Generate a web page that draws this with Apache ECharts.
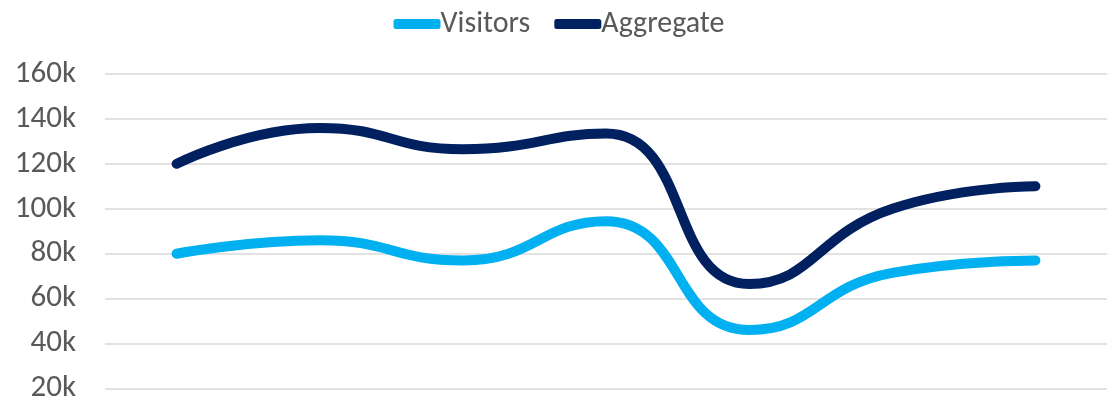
<!DOCTYPE html>
<html>
<head>
<meta charset="utf-8">
<script src="https://cdn.jsdelivr.net/npm/echarts@6/dist/echarts.min.js"></script>
<style>
  html, body { margin: 0; padding: 0; background: #fff; }
  #chart { width: 1118px; height: 404px; }
</style>
</head>
<body>
<div id="chart"></div>
<script>
const categories = ['P1', 'P2', 'P3', 'P4', 'P5', 'P6', 'P7'];
const visitors = [80000, 86000, 77000, 94500, 46000, 71500, 77000];
const aggregate = [120000, 136000, 126500, 133500, 66500, 100000, 110000];
const yTicks = { min: 20000, max: 160000, interval: 20000 };

const FONT = "Carlito, 'Open Sans', sans-serif";
const chart = echarts.init(document.getElementById('chart'));
chart.setOption({
  animation: false,
  backgroundColor: '#ffffff',
  legend: {
    top: 4,
    left: 'center',
    itemWidth: 47,
    itemHeight: 10,
    itemGap: 24,
    icon: 'roundRect',
    textStyle: { fontFamily: FONT, fontSize: 30, color: '#595959', padding: [0, 0, 0, -5] },
    data: ['Visitors', 'Aggregate']
  },
  grid: { left: 105, right: 11, top: 74, bottom: 12, containLabel: false },
  xAxis: {
    type: 'category',
    data: categories,
    boundaryGap: true,
    axisLine: { show: false },
    axisTick: { show: false },
    axisLabel: { show: false },
    splitLine: { show: false }
  },
  yAxis: {
    type: 'value',
    min: yTicks.min,
    max: yTicks.max,
    interval: yTicks.interval,
    axisLine: { show: false },
    axisTick: { show: false },
    axisLabel: {
      margin: 29,
      fontFamily: FONT,
      fontSize: 31,
      color: '#595959',
      formatter: v => (v / 1000) + 'k'
    },
    splitLine: { lineStyle: { color: '#d9d9d9', width: 1.5 } }
  },
  series: [
    {
      name: 'Visitors',
      type: 'line',
      data: visitors,
      smooth: 0.5,
      showSymbol: false,
      symbol: 'none',
      itemStyle: { color: '#00b0f0' },
      lineStyle: { color: '#00b0f0', width: 10, cap: 'round', join: 'round' }
    },
    {
      name: 'Aggregate',
      type: 'line',
      data: aggregate,
      smooth: 0.5,
      showSymbol: false,
      symbol: 'none',
      itemStyle: { color: '#002060' },
      lineStyle: { color: '#002060', width: 10, cap: 'round', join: 'round' }
    }
  ]
});
</script>
</body>
</html>
